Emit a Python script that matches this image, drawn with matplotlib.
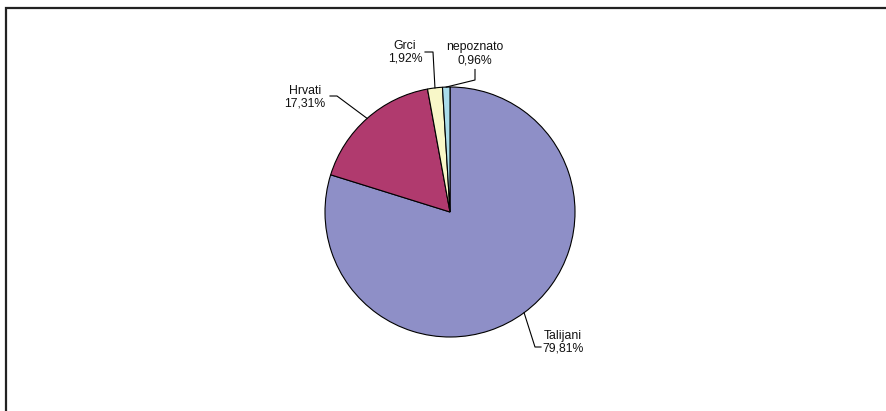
import numpy as np
import matplotlib
matplotlib.use('Agg')
import matplotlib.pyplot as plt
from matplotlib.patches import Rectangle

# data
labels = ['Talijani', 'Hrvati', 'Grci', 'nepoznato']
shares = [79.81, 17.31, 1.92, 0.96]
share_text = ['79,81%', '17,31%', '1,92%', '0,96%']
colors = ['#8e8fc7', '#b03a6e', '#f8f7c8', '#a9dcea']

# label layout (data units, pie radius = 1): text centre, line start, elbow
text_pos = [(0.904, -1.04), (-1.16, 0.92), (-0.36, 1.28), (0.20, 1.265)]
line_start = [(0.728, -1.08), (-0.96, 0.928), (-0.20, 1.28), (0.20, 1.14)]
line_elbow = [(0.68, -1.08), (-0.904, 0.928), (-0.136, 1.28), (0.20, 1.056)]

plt.rcParams['font.family'] = ['Liberation Sans', 'DejaVu Sans']

fig = plt.figure(figsize=(8.86, 4.11), dpi=100)
# outer frame (only top and left visible)
fig.patches.append(Rectangle((6/886, -0.1), 1.2, (411-8)/411 + 0.1,
                             transform=fig.transFigure, fill=False,
                             edgecolor='#222222', linewidth=1.6))

cx, cy, r = 450, 212, 125
ax = fig.add_axes([(cx-r)/886, (411-cy-r)/411, 2*r/886, 2*r/411])
ax.pie(shares, colors=colors, startangle=90, counterclock=False,
       wedgeprops=dict(edgecolor='black', linewidth=0.8))
ax.set_xlim(-1, 1)
ax.set_ylim(-1, 1)
ax.set_aspect('equal')
ax.axis('off')

# leader lines and labels
cum = np.cumsum(shares) - np.array(shares)/2
total = sum(shares)
for i, name in enumerate(labels):
    ang = np.deg2rad(cum[i]/total*360)
    edge = (np.sin(ang), np.cos(ang))
    xs = [line_start[i][0], line_elbow[i][0], edge[0]]
    ys = [line_start[i][1], line_elbow[i][1], edge[1]]
    ax.plot(xs, ys, color='black', linewidth=0.8, clip_on=False)
    ax.text(text_pos[i][0], text_pos[i][1], f'{name}\n{share_text[i]}',
            ha='center', va='center', fontsize=8.8, linespacing=1.1,
            color='#111111', clip_on=False)

fig.savefig('out.png', dpi=100)
